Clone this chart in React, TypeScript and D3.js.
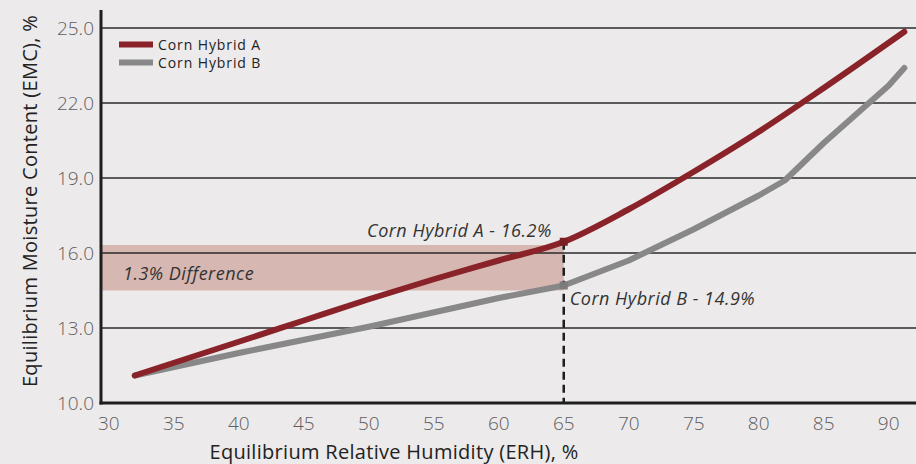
import { useEffect } from 'react';
import * as d3 from 'd3';

interface Pt {
  erh: number;
  emc: number;
}

const hybridA: Pt[] = [
  { erh: 32, emc: 11.1 },
  { erh: 40, emc: 12.45 },
  { erh: 45, emc: 13.3 },
  { erh: 50, emc: 14.15 },
  { erh: 55, emc: 14.95 },
  { erh: 60, emc: 15.7 },
  { erh: 65, emc: 16.45 },
  { erh: 70, emc: 17.75 },
  { erh: 75, emc: 19.25 },
  { erh: 80, emc: 20.85 },
  { erh: 85, emc: 22.6 },
  { erh: 91.2, emc: 24.85 },
];

const hybridB: Pt[] = [
  { erh: 32, emc: 11.1 },
  { erh: 40, emc: 12.0 },
  { erh: 50, emc: 13.05 },
  { erh: 60, emc: 14.2 },
  { erh: 65, emc: 14.7 },
  { erh: 70, emc: 15.7 },
  { erh: 75, emc: 16.95 },
  { erh: 80, emc: 18.3 },
  { erh: 82, emc: 18.9 },
  { erh: 85, emc: 20.4 },
  { erh: 90, emc: 22.7 },
  { erh: 91.2, emc: 23.4 },
];

const xTicks = [30, 35, 40, 45, 50, 55, 60, 65, 70, 75, 80, 85, 90];
const yTicks = [10, 13, 16, 19, 22, 25];
const seriesNames = ['Corn Hybrid A', 'Corn Hybrid B'];
const bandRange = [14.5, 16.32];
const markerErh = 65;
const labelA = 'Corn Hybrid A - 16.2%';
const labelB = 'Corn Hybrid B - 14.9%';
const bandLabel = '1.3% Difference';

const W = 916;
const H = 464;
const RED = '#8a2329';
const GRAY = '#888888';
const FONT = '"Open Sans", Lato, sans-serif';

export default function App() {
  useEffect(() => {
    document.body.style.margin = '0';
  }, []);

  const x = d3.scaleLinear().domain([29.4, 92.1]).range([101, 916]);
  const y = d3.scaleLinear().domain([10, 25]).range([403, 28]);
  const lineA = d3.line<Pt>().x(d => x(d.erh)).y(d => y(d.emc)).curve(d3.curveMonotoneX);
  const lineB = d3.line<Pt>().x(d => x(d.erh)).y(d => y(d.emc)).curve(d3.curveLinear);
  const aAt = hybridA.find(d => d.erh === markerErh)!;
  const bAt = hybridB.find(d => d.erh === markerErh)!;

  return (
    <svg width={W} height={H} style={{ display: 'block', background: '#eceaeb' }}>
      <rect
        x={x(29.4)}
        y={y(bandRange[1])}
        width={x(markerErh) - x(29.4)}
        height={y(bandRange[0]) - y(bandRange[1])}
        fill="#d6b7b1"
      />
      {yTicks.slice(1).map(t => (
        <line key={t} x1={101} x2={W} y1={y(t)} y2={y(t)} stroke="#2b2b2b" strokeWidth={1.5} />
      ))}
      {yTicks.map(t => (
        <text key={t} x={94} y={y(t)} dy="0.36em" textAnchor="end" fontFamily={FONT}
          fontSize={19} fontWeight={300} fill="#5e5e5e">{t.toFixed(1)}</text>
      ))}
      {xTicks.map(t => (
        <text key={t} x={x(t)} y={430} textAnchor="middle" fontFamily={FONT}
          fontSize={19} fontWeight={300} fill="#5e5e5e">{t}</text>
      ))}
      <line x1={x(markerErh)} x2={x(markerErh)} y1={y(aAt.emc)} y2={403}
        stroke="#1e1e1e" strokeWidth={2.5} strokeDasharray="8,5" />
      <path d={lineB(hybridB)!} fill="none" stroke={GRAY} strokeWidth={6}
        strokeLinecap="round" strokeLinejoin="round" />
      <path d={lineA(hybridA)!} fill="none" stroke={RED} strokeWidth={6}
        strokeLinecap="round" strokeLinejoin="round" />
      <rect x={x(markerErh) - 4} y={y(aAt.emc) - 4} width={8} height={8} fill="#7a1f24" />
      <rect x={x(markerErh) - 4} y={y(bAt.emc) - 4} width={8} height={8} fill="#7c7c7c" />
      <line x1={101} x2={101} y1={10} y2={404.5} stroke="#1e1e1e" strokeWidth={3} />
      <line x1={99.5} x2={W} y1={403} y2={403} stroke="#1e1e1e" strokeWidth={3} />
      <text x={x(markerErh) - 12} y={237} textAnchor="end" fontFamily={FONT} fontSize={18}
        letterSpacing={0.5} fontStyle="italic" fill="#333">{labelA}</text>
      <text x={x(markerErh) + 6} y={305} fontFamily={FONT} fontSize={18}
        letterSpacing={0.5} fontStyle="italic" fill="#333">{labelB}</text>
      <text x={123} y={280} fontFamily={FONT} fontSize={18}
        letterSpacing={0.5} fontStyle="italic" fill="#333">{bandLabel}</text>
      {seriesNames.map((n, i) => (
        <g key={n}>
          <line x1={119} x2={153} y1={44.5 + i * 18} y2={44.5 + i * 18}
            stroke={i === 0 ? RED : GRAY} strokeWidth={6} />
          <text x={158} y={44.5 + i * 18} dy="0.36em" fontFamily={FONT} fontSize={14}
            letterSpacing={0.9} fill="#222">{n}</text>
        </g>
      ))}
      <text x={394} y={459} textAnchor="middle" fontFamily={FONT} fontSize={20}
        letterSpacing={0.3} fill="#222">
        Equilibrium Relative Humidity (ERH), %
      </text>
      <text transform="rotate(-90)" x={-201} y={37} textAnchor="middle" fontFamily={FONT}
        fontSize={20} letterSpacing={0.3} fill="#222">Equilibrium Moisture Content (EMC), %</text>
    </svg>
  );
}
